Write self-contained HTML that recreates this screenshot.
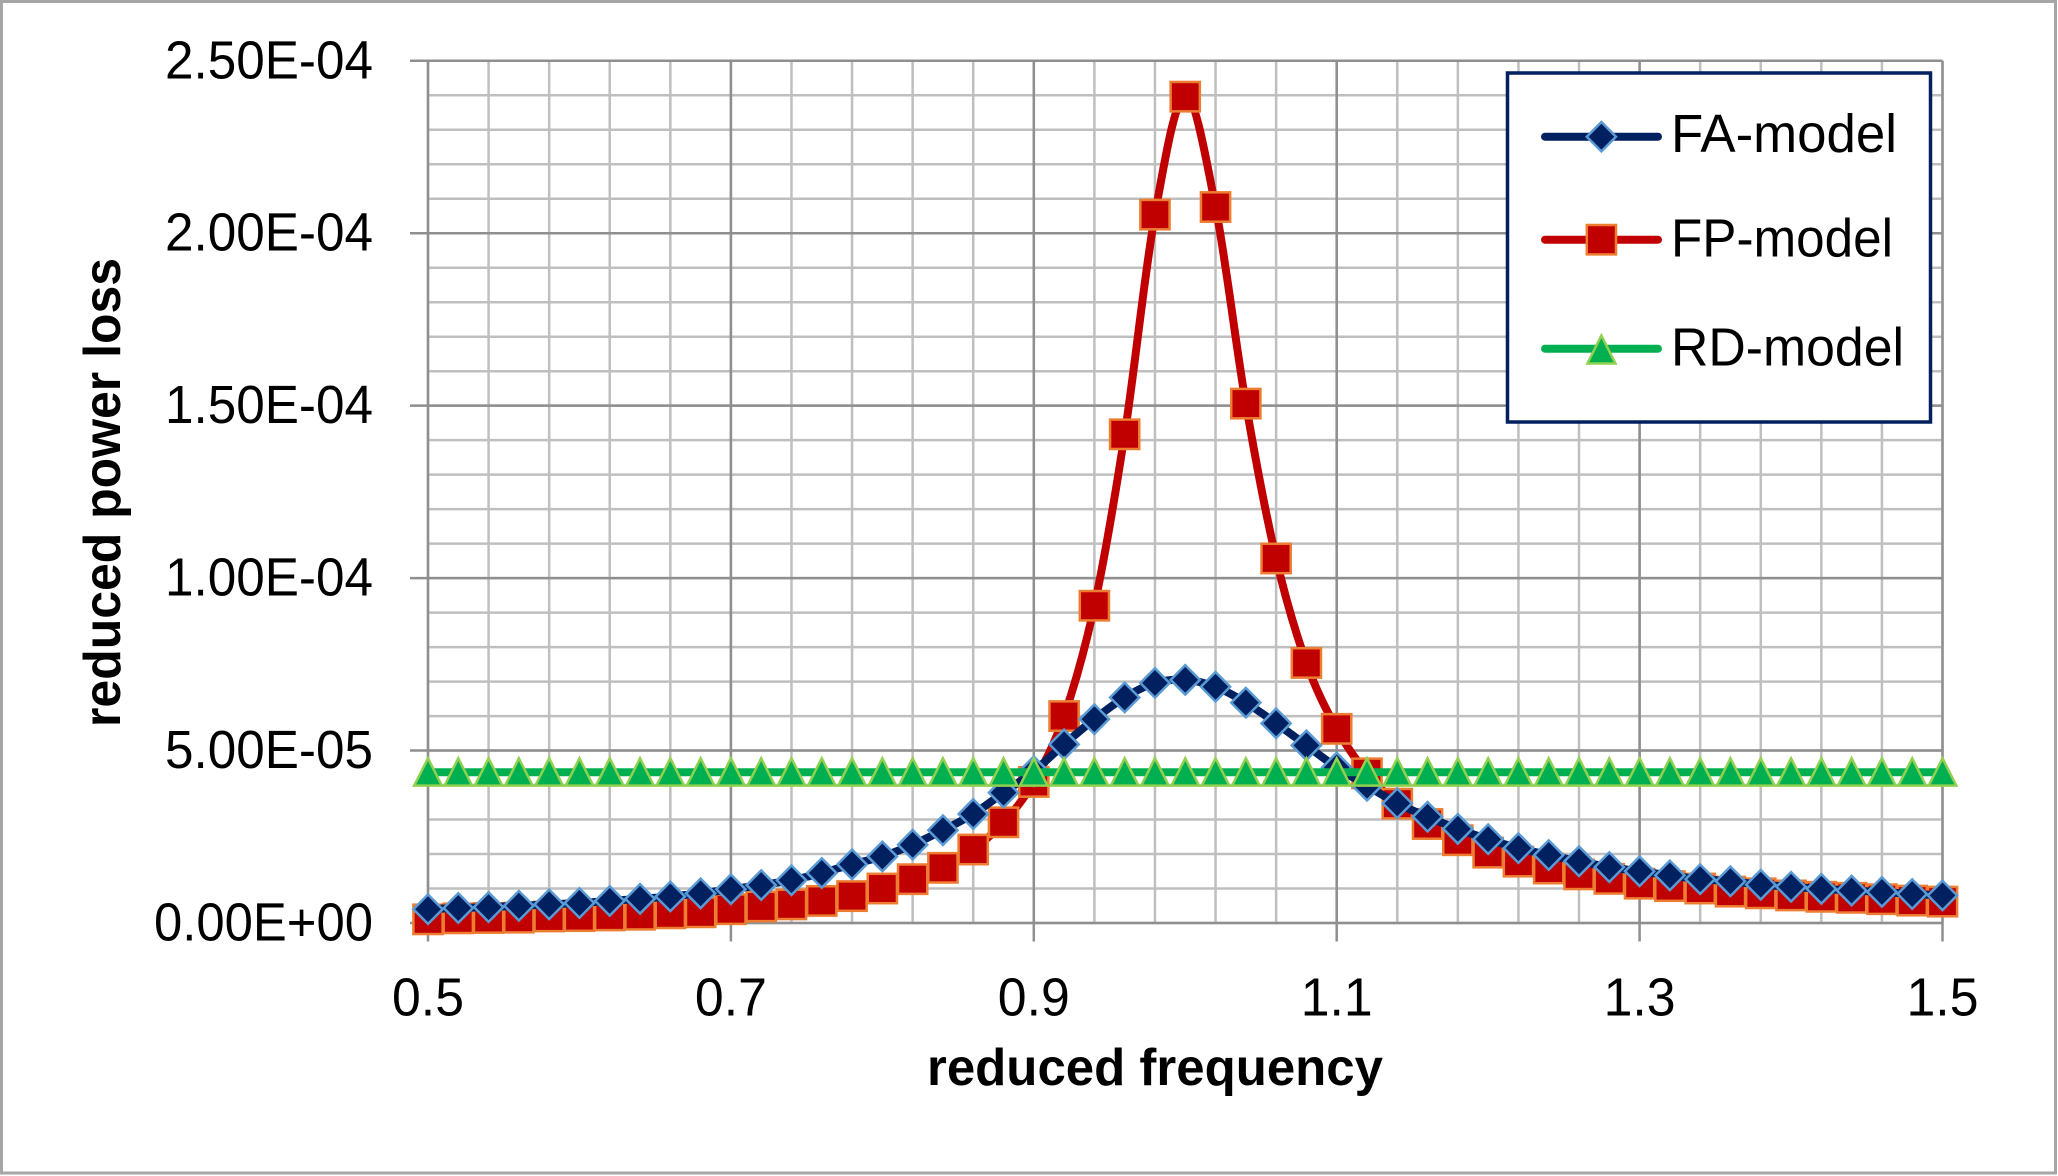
<!DOCTYPE html>
<html lang="en">
<head>
<meta charset="utf-8">
<title>Reduced power loss vs reduced frequency</title>
<style>
html,body{margin:0;padding:0;background:#fff;}
svg{display:block;}
text{font-family:"Liberation Sans",sans-serif;fill:#000;}
</style>
</head>
<body>
<svg id="chart" xmlns="http://www.w3.org/2000/svg" width="2058" height="1176" viewBox="0 0 2058 1176">
  <rect x="1.5" y="1.5" width="2054" height="1171.5" fill="#fff" stroke="#a6a6a6" stroke-width="3"/>
  <g id="grid"></g>
  <g id="xticks"></g>
  <g id="yticks"></g>
  <text x="1155" y="1085" font-size="52" font-weight="700" text-anchor="middle" textLength="456" lengthAdjust="spacingAndGlyphs">reduced frequency</text>
  <text transform="translate(120,492.5) rotate(-90)" font-size="52" font-weight="700" text-anchor="middle" textLength="469" lengthAdjust="spacingAndGlyphs">reduced power loss</text>
  <g id="series"></g>
  <g id="legend">
    <rect x="1507.5" y="73" width="423" height="349" fill="#fff" stroke="#002060" stroke-width="3.5"/>
    <g>
      <line x1="1545" y1="136.7" x2="1658" y2="136.7" stroke="#002060" stroke-width="8" stroke-linecap="round"/>
      <polygon points="1601.4,122 1616,136.7 1601.4,151.4 1586.8,136.7" fill="#002060" stroke="#5b9bd5" stroke-width="2.5"/>
      <text x="1671" y="152" font-size="54" textLength="226" lengthAdjust="spacingAndGlyphs">FA-model</text>
    </g>
    <g>
      <line x1="1545" y1="239.7" x2="1658" y2="239.7" stroke="#c00000" stroke-width="8" stroke-linecap="round"/>
      <rect x="1586.8" y="225" width="29.2" height="29.4" fill="#c00000" stroke="#ed7d31" stroke-width="2.5"/>
      <text x="1671" y="256.7" font-size="54" textLength="222" lengthAdjust="spacingAndGlyphs">FP-model</text>
    </g>
    <g>
      <line x1="1545" y1="348.7" x2="1658" y2="348.7" stroke="#00b050" stroke-width="8" stroke-linecap="round"/>
      <polygon points="1601.4,335.5 1615.4,363.5 1587.4,363.5" fill="#00b050" stroke="#92d050" stroke-width="2.5"/>
      <text x="1671" y="365.7" font-size="54" textLength="233" lengthAdjust="spacingAndGlyphs">RD-model</text>
    </g>
  </g>
</svg>
<script>
const frequencies = [0.50,0.52,0.54,0.56,0.58,0.60,0.62,0.64,0.66,0.68,0.70,0.72,0.74,0.76,0.78,0.80,0.82,0.84,0.86,0.88,0.90,0.92,0.94,0.96,0.98,1.00,1.02,1.04,1.06,1.08,1.10,1.12,1.14,1.16,1.18,1.20,1.22,1.24,1.26,1.28,1.30,1.32,1.34,1.36,1.38,1.40,1.42,1.44,1.46,1.48,1.50];
const faModel = [0.40e-5,0.435e-5,0.46e-5,0.50e-5,0.54e-5,0.58e-5,0.64e-5,0.70e-5,0.77e-5,0.86e-5,0.98e-5,1.10e-5,1.24e-5,1.45e-5,1.70e-5,1.93e-5,2.27e-5,2.69e-5,3.16e-5,3.78e-5,4.40e-5,5.18e-5,5.91e-5,6.54e-5,6.96e-5,7.05e-5,6.85e-5,6.39e-5,5.79e-5,5.15e-5,4.51e-5,3.98e-5,3.47e-5,3.08e-5,2.73e-5,2.43e-5,2.17e-5,1.97e-5,1.79e-5,1.62e-5,1.50e-5,1.38e-5,1.27e-5,1.21e-5,1.11e-5,1.05e-5,0.99e-5,0.94e-5,0.90e-5,0.84e-5,0.80e-5];
const fpModel = [0.106e-5,0.135e-5,0.145e-5,0.155e-5,0.19e-5,0.20e-5,0.22e-5,0.24e-5,0.28e-5,0.31e-5,0.40e-5,0.48e-5,0.54e-5,0.64e-5,0.78e-5,1.00e-5,1.27e-5,1.60e-5,2.13e-5,2.92e-5,4.09e-5,6.00e-5,9.20e-5,14.17e-5,20.54e-5,23.96e-5,20.76e-5,15.06e-5,10.57e-5,7.54e-5,5.63e-5,4.34e-5,3.46e-5,2.87e-5,2.40e-5,2.04e-5,1.78e-5,1.58e-5,1.41e-5,1.28e-5,1.14e-5,1.07e-5,1.00e-5,0.91e-5,0.86e-5,0.80e-5,0.76e-5,0.73e-5,0.69e-5,0.65e-5,0.62e-5];
const rdModel = [4.37e-5,4.37e-5,4.37e-5,4.37e-5,4.37e-5,4.37e-5,4.37e-5,4.37e-5,4.37e-5,4.37e-5,4.37e-5,4.37e-5,4.37e-5,4.37e-5,4.37e-5,4.37e-5,4.37e-5,4.37e-5,4.37e-5,4.37e-5,4.37e-5,4.37e-5,4.37e-5,4.37e-5,4.37e-5,4.37e-5,4.37e-5,4.37e-5,4.37e-5,4.37e-5,4.37e-5,4.37e-5,4.37e-5,4.37e-5,4.37e-5,4.37e-5,4.37e-5,4.37e-5,4.37e-5,4.37e-5,4.37e-5,4.37e-5,4.37e-5,4.37e-5,4.37e-5,4.37e-5,4.37e-5,4.37e-5,4.37e-5,4.37e-5,4.37e-5];
const xTickValues = [0.5,0.7,0.9,1.1,1.3,1.5];
const xTickLabels = ["0.5","0.7","0.9","1.1","1.3","1.5"];
const yTickValues = [0,5e-5,1e-4,1.5e-4,2e-4,2.5e-4];
const yTickLabels = ["0.00E+00","5.00E-05","1.00E-04","1.50E-04","2.00E-04","2.50E-04"];

const NS = "http://www.w3.org/2000/svg";
const X0 = 428, X1 = 1942.5, Y0 = 923, Y1 = 60.8;
function sx(v){ return X0 + (v - 0.5) / 1.0 * (X1 - X0); }
function sy(v){ return Y0 - v / 2.5e-4 * (Y0 - Y1); }
function mk(tag, parent, props){
  const el = document.createElementNS(NS, tag);
  for (const k in props) el.setAttribute(k, props[k]);
  parent.appendChild(el);
  return el;
}
const grid = document.getElementById("grid");
const xticks = document.getElementById("xticks");
const yticks = document.getElementById("yticks");
const seriesLayer = document.getElementById("series");

// minor grid
for (let i = 0; i <= 25; i++) {
  const v = 0.5 + i * 0.04;
  const l = mk("line", grid, {x1:sx(v), x2:sx(v), y1:Y1, y2:Y0, stroke:"#bfbfbf", "stroke-width":2.5});
  
  
}
for (let i = 0; i <= 25; i++) {
  const v = i * 1e-5;
  const l = mk("line", grid, {x1:X0, x2:X1, y1:sy(v), y2:sy(v), stroke:"#bfbfbf", "stroke-width":2.5});
  
  
}
// major grid, ticks and labels
xTickValues.forEach(function(v, i){
  const l = mk("line", grid, {x1:sx(v), x2:sx(v), y1:Y1, y2:Y0 + 18.5, stroke:"#8f8f8f", "stroke-width":2.5});
  
  
  const t = mk("text", xticks, {x:sx(v), y:1015.7, "font-size":54, "text-anchor":"middle", textLength:72, lengthAdjust:"spacingAndGlyphs"});
  t.textContent = xTickLabels[i];
  
  
});
yTickValues.forEach(function(v, i){
  const l = mk("line", grid, {x1:X0 - 18, x2:X1, y1:sy(v), y2:sy(v), stroke:"#8f8f8f", "stroke-width":2.5});
  
  
  const t = mk("text", yticks, {x:373, y:sy(v) + 17.5, "font-size":54, "text-anchor":"end", textLength:yTickLabels[i].indexOf("+") >= 0 ? 219 : 208, lengthAdjust:"spacingAndGlyphs"});
  t.textContent = yTickLabels[i];
  
  
});

function smoothPath(xs, ys){
  const pts = xs.map(function(x, i){ return [sx(x), sy(ys[i])]; });
  let d = "M" + pts[0][0].toFixed(2) + " " + pts[0][1].toFixed(2);
  for (let i = 0; i < pts.length - 1; i++) {
    const p0 = pts[Math.max(i - 1, 0)], p1 = pts[i], p2 = pts[i + 1], p3 = pts[Math.min(i + 2, pts.length - 1)];
    const c1x = p1[0] + (p2[0] - p0[0]) / 6, c1y = p1[1] + (p2[1] - p0[1]) / 6;
    const c2x = p2[0] - (p3[0] - p1[0]) / 6, c2y = p2[1] - (p3[1] - p1[1]) / 6;
    d += "C" + c1x.toFixed(2) + " " + c1y.toFixed(2) + " " + c2x.toFixed(2) + " " + c2y.toFixed(2) + " " + p2[0].toFixed(2) + " " + p2[1].toFixed(2);
  }
  return d;
}

// FP-model (drawn first: FA diamonds sit on top of it in the reference)
const fpGroup = mk("g", seriesLayer, {});


const fpLine = mk("path", fpGroup, {d:smoothPath(frequencies, fpModel), fill:"none", stroke:"#c00000", "stroke-width":8, "stroke-linejoin":"round"});


frequencies.forEach(function(f, i){
  const cx = sx(f), cy = sy(fpModel[i]);
  const m = mk("rect", fpGroup, {x:cx - 14.6, y:cy - 14.7, width:29.2, height:29.4, fill:"#c00000", stroke:"#ed7d31", "stroke-width":2.5});
  
  
});

// FA-model
const faGroup = mk("g", seriesLayer, {});


const faLine = mk("path", faGroup, {d:smoothPath(frequencies, faModel), fill:"none", stroke:"#002060", "stroke-width":8, "stroke-linejoin":"round"});


frequencies.forEach(function(f, i){
  const cx = sx(f), cy = sy(faModel[i]);
  const m = mk("polygon", faGroup, {points:cx + "," + (cy - 14.7) + " " + (cx + 14.6) + "," + cy + " " + cx + "," + (cy + 14.7) + " " + (cx - 14.6) + "," + cy, fill:"#002060", stroke:"#5b9bd5", "stroke-width":2.5});
  
  
});

// RD-model
const rdGroup = mk("g", seriesLayer, {});


const rdLine = mk("path", rdGroup, {d:smoothPath(frequencies, rdModel), fill:"none", stroke:"#00b050", "stroke-width":8});


frequencies.forEach(function(f, i){
  const cx = sx(f), cy = sy(rdModel[i]);
  const m = mk("polygon", rdGroup, {points:cx + "," + (cy - 14) + " " + (cx + 13.8) + "," + (cy + 13.3) + " " + (cx - 13.8) + "," + (cy + 13.3), fill:"#00b050", stroke:"#92d050", "stroke-width":2.5});
  
  
});
</script>
</body>
</html>
